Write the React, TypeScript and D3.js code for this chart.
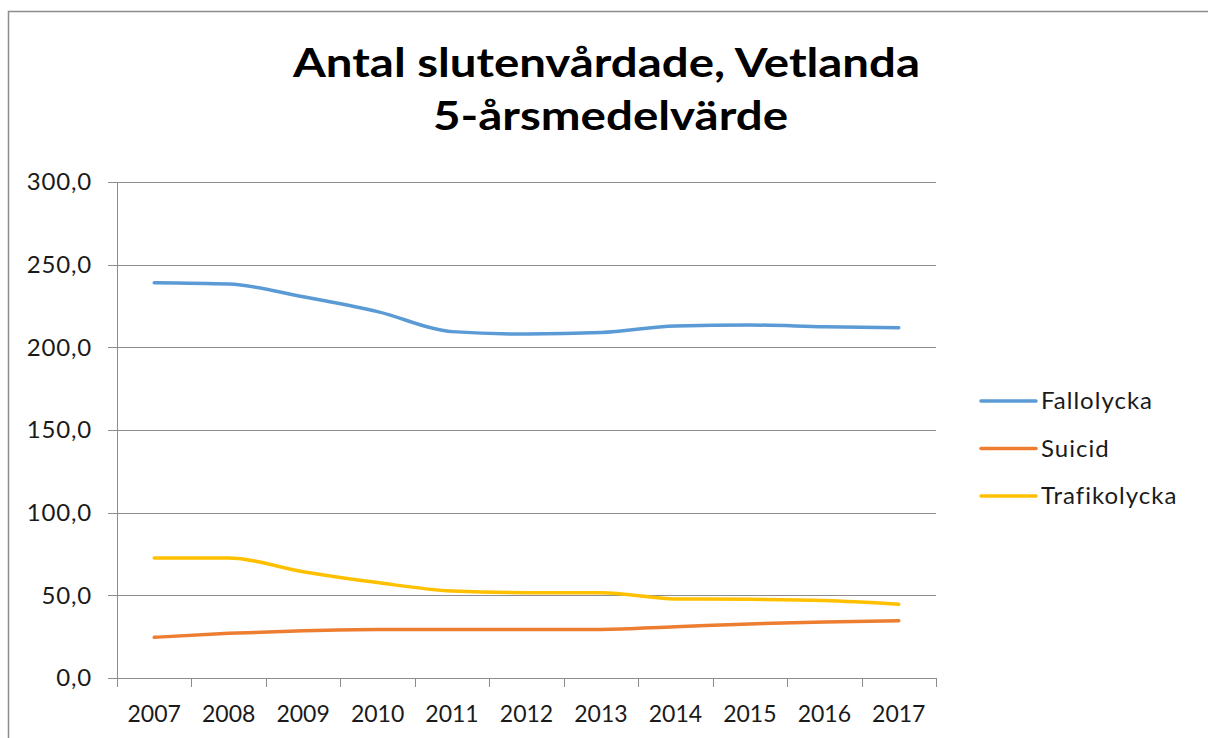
import React, { useEffect, useRef } from 'react';
import * as d3 from 'd3';

// 5-year means
const years = ['2007', '2008', '2009', '2010', '2011', '2012', '2013', '2014', '2015', '2016', '2017'];
const fallolycka = [239.1, 238.3, 230.6, 221.6, 209.5, 208.0, 208.9, 212.9, 213.5, 212.5, 211.9];
const suicid = [24.6, 27.0, 28.6, 29.4, 29.4, 29.4, 29.4, 31.0, 32.7, 33.9, 34.7];
const trafikolycka = [72.6, 72.6, 64.3, 57.7, 52.6, 51.6, 51.6, 47.8, 47.6, 46.8, 44.6];
const seriesNames = ['Fallolycka', 'Suicid', 'Trafikolycka'];
const seriesColors = ['#5B9BD5', '#ED7D31', '#FFC000'];
const yTicks = [0, 50, 100, 150, 200, 250, 300];

const W = 1208;
const H = 738;
const FONT = 'Lato, "Open Sans", sans-serif';

export default function App() {
  const ref = useRef<SVGSVGElement>(null);

  useEffect(() => {
    const svg = d3.select(ref.current);
    svg.selectAll('*').remove();

    const margin = { top: 182, right: 272, bottom: 60, left: 117 };
    const width = 936 - margin.left;
    const height = 678 - margin.top;

    // chart frame
    svg.append('rect')
      .attr('x', 8.5).attr('y', 11.5)
      .attr('width', W + 20).attr('height', H + 20)
      .attr('fill', '#fff')
      .attr('stroke', '#8c8c8c')
      .attr('stroke-width', 1.5);

    // title
    const title = svg.append('text')
      .attr('text-anchor', 'middle')
      .attr('font-family', FONT)
      .attr('font-weight', 700)
      .attr('font-size', 41)
      .attr('fill', '#000');
    title.append('tspan').attr('x', 606.5).attr('y', 77)
      .attr('textLength', 627).attr('lengthAdjust', 'spacingAndGlyphs')
      .text('Antal slutenvårdade, Vetlanda');
    title.append('tspan').attr('x', 610.5).attr('y', 130)
      .attr('textLength', 355).attr('lengthAdjust', 'spacingAndGlyphs')
      .text('5-årsmedelvärde');

    const g = svg.append('g').attr('transform', `translate(${margin.left},${margin.top})`);

    const x = d3.scaleBand().domain(years).range([0, width]).padding(0);
    const y = d3.scaleLinear().domain([0, 300]).range([height, 0]);

    // gridlines
    g.append('g')
      .selectAll('line')
      .data(yTicks)
      .enter()
      .append('line')
      .attr('x1', -9)
      .attr('x2', width)
      .attr('y1', d => Math.round(y(d)) + 0.5)
      .attr('y2', d => Math.round(y(d)) + 0.5)
      .attr('stroke', '#8c8c8c')
      .attr('stroke-width', 1);

    // y axis line
    g.append('line')
      .attr('x1', 0.5).attr('x2', 0.5)
      .attr('y1', 0).attr('y2', height + 9)
      .attr('stroke', '#8c8c8c');

    // x ticks at band edges
    const edges = years.map(d => x(d) as number).concat([width]);
    g.append('g')
      .selectAll('line')
      .data(edges)
      .enter()
      .append('line')
      .attr('x1', d => Math.round(d) + 0.5)
      .attr('x2', d => Math.round(d) + 0.5)
      .attr('y1', height)
      .attr('y2', height + 9)
      .attr('stroke', '#8c8c8c');

    // y labels
    const fmt = (v: number) => v.toFixed(1).replace('.', ',');
    g.append('g')
      .selectAll('text')
      .data(yTicks)
      .enter()
      .append('text')
      .attr('x', -25)
      .attr('y', d => y(d))
      .attr('dy', '0.35em')
      .attr('text-anchor', 'end')
      .attr('font-family', FONT)
      .attr('font-size', 24)
      .attr('letter-spacing', 0.8)
      .attr('fill', '#1a1a1a')
      .text(d => fmt(d));

    // x labels
    g.append('g')
      .selectAll('text')
      .data(years)
      .enter()
      .append('text')
      .attr('x', d => (x(d) as number) + x.bandwidth() / 2)
      .attr('y', height + 44)
      .attr('text-anchor', 'middle')
      .attr('font-family', FONT)
      .attr('font-size', 23)
      .attr('fill', '#1a1a1a')
      .text(d => d);

    // lines
    const allSeries = [fallolycka, suicid, trafikolycka];
    const line = d3.line<number>()
      .x((_, i) => (x(years[i]) as number) + x.bandwidth() / 2)
      .y(d => y(d))
      .curve(d3.curveMonotoneX);

    allSeries.forEach((vals, i) => {
      g.append('path')
        .datum(vals)
        .attr('d', line)
        .attr('fill', 'none')
        .attr('stroke', seriesColors[i])
        .attr('stroke-width', 3.5)
        .attr('stroke-linecap', 'round')
        .attr('stroke-linejoin', 'round');
    });

    // legend
    const legend = svg.append('g');
    seriesNames.forEach((name, i) => {
      const ly = 401 + i * 47.5;
      legend.append('line')
        .attr('x1', 981).attr('x2', 1036)
        .attr('y1', ly).attr('y2', ly)
        .attr('stroke', seriesColors[i])
        .attr('stroke-width', 3.5)
        .attr('stroke-linecap', 'round');
      legend.append('text')
        .attr('x', 1041)
        .attr('y', ly)
        .attr('dy', '0.35em')
        .attr('font-family', FONT)
        .attr('font-size', 24)
        .attr('letter-spacing', 1)
        .attr('fill', '#1a1a1a')
        .text(name);
    });
  }, []);

  return (
    <svg
      ref={ref}
      width={W}
      height={H}
      style={{ position: 'absolute', left: 0, top: 0, display: 'block' }}
    />
  );
}
